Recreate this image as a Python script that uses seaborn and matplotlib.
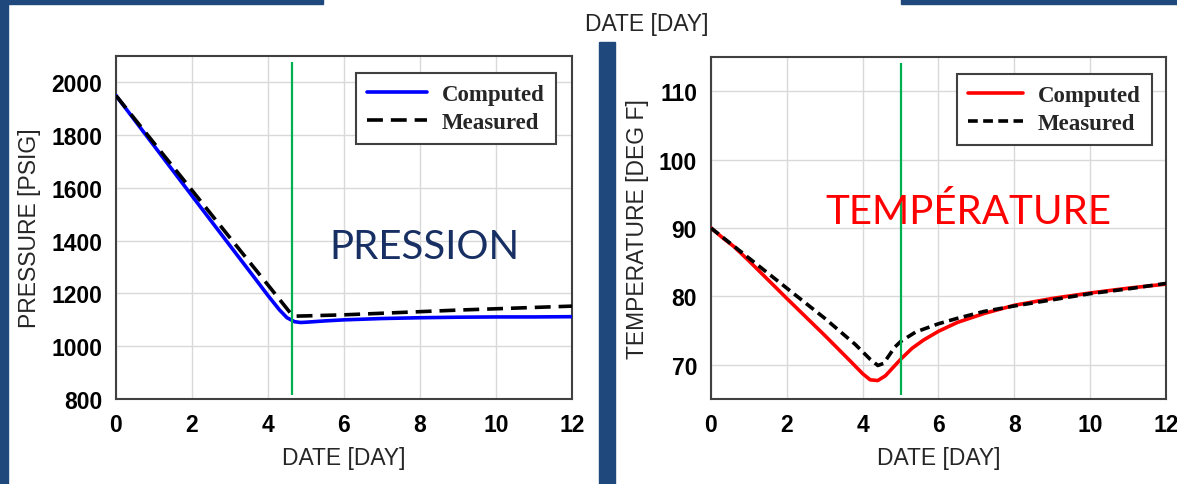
import numpy as np
import pandas as pd
import matplotlib
matplotlib.use("Agg")
import matplotlib.pyplot as plt
import seaborn as sns
from matplotlib.patches import Rectangle

# ---------------- data ----------------
p_comp_day = [0, 1, 2, 3, 3.6, 4.0, 4.3, 4.5, 4.7, 4.85, 5.0, 5.5, 6, 7, 8, 9, 10, 11, 12]
p_comp_val = [1950, 1760, 1570, 1381, 1268, 1192, 1138, 1108, 1093, 1090, 1091, 1096, 1100, 1105, 1108, 1110, 1111, 1111, 1112]
p_meas_day = [0, 1, 2, 3, 4, 4.4, 4.6, 4.7, 5, 6, 7, 8, 9, 10, 11, 12]
p_meas_val = [1950, 1770, 1591, 1411, 1232, 1160, 1124, 1114, 1115, 1119, 1125, 1131, 1137, 1142, 1147, 1152]

t_comp_day = [0, 0.3, 0.6, 1, 2, 3, 3.7, 4.0, 4.2, 4.4, 4.6, 4.8, 5.0, 5.3, 5.6, 6.0, 6.5, 7.2, 8, 9, 10, 11, 12]
t_comp_val = [90, 88.6, 87.3, 85.2, 79.7, 74.3, 70.4, 68.7, 67.8, 67.7, 68.4, 69.6, 70.8, 72.4, 73.6, 74.9, 76.2, 77.5, 78.7, 79.7, 80.5, 81.2, 81.8]
t_meas_day = [0, 1, 2, 3, 3.8, 4.2, 4.4, 4.55, 4.7, 4.85, 5.0, 5.4, 6.0, 6.5, 7.2, 8, 9, 10, 11, 12]
t_meas_val = [90, 85.6, 81.2, 76.8, 73.0, 70.8, 69.9, 70.2, 71.4, 72.6, 73.4, 74.8, 76.0, 76.8, 77.8, 78.6, 79.5, 80.4, 81.1, 81.9]

p_marker_day = 4.63
t_marker_day = 5.0

x_ticks = [0, 2, 4, 6, 8, 10, 12]
p_ticks = [800, 1000, 1200, 1400, 1600, 1800, 2000]
t_ticks = [70, 80, 90, 100, 110]

series_labels = ["Computed", "Measured"]

# ---------------- style ----------------
sns.set_style("white")
plt.rcParams["font.family"] = ["Liberation Sans", "DejaVu Sans"]

NAVY = "#1F497D"
fig = plt.figure(figsize=(11.77, 4.85), dpi=100)

W, H = 1177, 485
def px_rect(x0, y0, x1, y1):
    fig.patches.append(Rectangle((x0 / W, 1 - y1 / H), (x1 - x0) / W, (y1 - y0) / H,
                                 transform=fig.transFigure, color=NAVY, zorder=0))

px_rect(0, 0, 8, 485)
px_rect(0, 0, 323, 5)
px_rect(599, 43, 615, 485)
px_rect(901, 0, 1177, 5)

ax1 = fig.add_axes([116 / W, 1 - 400 / H, (572 - 116) / W, (400 - 57) / H])
ax2 = fig.add_axes([711 / W, 1 - 400 / H, (1166 - 711) / W, (400 - 58) / H])

def build(ax, cd, cv, md, mv, ccol, ylim, yticks, ylabel, marker, dashes, hlen, anchor_x):
    df_c = pd.DataFrame({"day": cd, "val": cv})
    df_m = pd.DataFrame({"day": md, "val": mv})
    sns.lineplot(data=df_c, x="day", y="val", ax=ax, color=ccol, lw=2.6,
                 label=series_labels[0], zorder=3)
    sns.lineplot(data=df_m, x="day", y="val", ax=ax, color="black", lw=2.6,
                 label=series_labels[1], zorder=4)
    ax.lines[-1].set_dashes(dashes)
    ax.set_xlim(0, 12)
    ax.set_ylim(*ylim)
    ax.set_xticks(x_ticks)
    ax.set_yticks(yticks)
    ax.grid(True, color="#d9d9d9", lw=1.0)
    ax.set_axisbelow(True)
    for s in ax.spines.values():
        s.set_color("#404040")
        s.set_linewidth(1.5)
    ax.tick_params(direction="inout", length=8, width=1.2, color="#404040",
                   labelsize=16.5, pad=6, labelcolor="black")
    for lab in ax.get_xticklabels() + ax.get_yticklabels():
        lab.set_fontweight("bold")
    ax.set_xlabel("DATE [DAY]", fontsize=16.5, labelpad=7)
    ax.set_ylabel(ylabel, fontsize=16.5, labelpad=7)
    span = ylim[1] - ylim[0]
    ax.vlines(marker, ylim[0] + span * 4 / 342, ylim[0] + span * 336 / 342,
              color="#00B050", lw=1.6, zorder=5)
    leg = ax.legend(loc="upper right", bbox_to_anchor=(anchor_x, 0.965),
                    prop={"family": ["Liberation Serif"], "weight": "bold", "size": 16.5},
                    frameon=True, fancybox=False, handlelength=hlen,
                    borderpad=0.5, labelspacing=0.3, handletextpad=0.65,
                    borderaxespad=0.2)
    leg.get_frame().set_edgecolor("#404040")
    leg.get_frame().set_linewidth(1.5)
    leg.get_frame().set_alpha(1)
    return leg

build(ax1, p_comp_day, p_comp_val, p_meas_day, p_meas_val, "#0000FF",
      (800, 2100), p_ticks, "PRESSURE [PSIG]", p_marker_day, (4.4, 2.2), 2.6, 0.975)
build(ax2, t_comp_day, t_comp_val, t_meas_day, t_meas_val, "#FF0000",
      (65, 115), t_ticks, "TEMPERATURE [DEG F]", t_marker_day, (2.7, 1.5), 2.4, 0.98)

fig.text(647 / W, 1 - 25 / H, "DATE [DAY]", ha="center", va="center", fontsize=16.5)
fig.text(424 / W, 1 - 248 / H, "PRESSION", ha="center", va="center",
         fontsize=29, color="#172F62", family=["Lato", "DejaVu Sans"])
fig.text(968 / W, 1 - 212 / H, "TEMPÉRATURE", ha="center", va="center",
         fontsize=29, color="#FF0000", family=["Lato", "DejaVu Sans"])

fig.savefig("out.png", dpi=100)
